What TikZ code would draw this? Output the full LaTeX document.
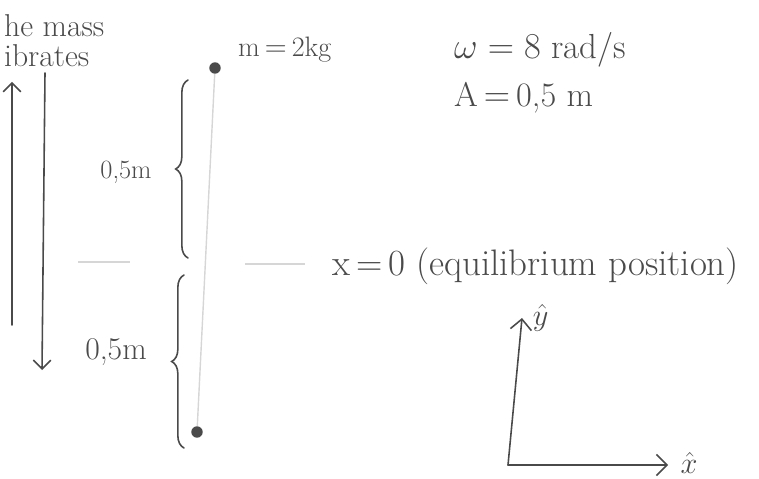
\documentclass[tikz,border=0pt]{standalone}
\usepackage{amsmath,amssymb}
\usepackage{tikz}
\usetikzlibrary{arrows.meta,positioning,decorations.pathreplacing,calc}
\definecolor{pencil}{HTML}{4A4A4A}
\definecolor{faint}{HTML}{D6D6D6}
\newcommand{\handsz}[1]{\fontsize{#1}{#1}\selectfont}

\begin{document}
\begin{tikzpicture}[x=0.02cm, y=-0.02cm,
    pen/.style={draw=pencil, line width=0.9pt, line cap=round},
    hand/.style={text=pencil, font=\Large, inner sep=1pt},
    mass/.style={circle, fill=pencil, minimum size=6.5pt, inner sep=0pt},
    bracepen/.style={pen, decorate, decoration={brace, amplitude=7pt}}]
    \useasboundingbox (0,0) rectangle (759,479);

    % Text top-left (cut by the border)
    \node[hand, font=\handsz{18pt}, anchor=west] (mass1) at (2,26) {he mass};
    \node[hand, font=\handsz{18pt}, anchor=west] (mass2) at (2,56) {ibrates};

    % Vibration arrows
    \coordinate (upS) at (12,325);
    \coordinate (upE) at (12,82);
    \coordinate (dnS) at (45,73);
    \coordinate (dnE) at (42,370);
    \draw[pen, -{Straight Barb[length=5pt]}] (upS) -- (upE);
    \draw[pen, -{Straight Barb[length=5pt]}] (dnS) -- (dnE);

    % Masses and the faint rod
    \node[mass] (top) at (215,68) {};
    \node[mass] (bot) at (197,432) {};
    \draw[faint, line width=0.8pt] (top) -- (bot);
    \node[hand, font=\handsz{16pt}, anchor=west] (mlabel) at (236,50) {m$\,=\,$2kg};

    % Equilibrium line (faint)
    \coordinate (eqA) at (78,262);
    \coordinate (eqB) at (130,262);
    \coordinate (eqC) at (245,264);
    \coordinate (eqD) at (305,264);
    \draw[faint, line width=0.8pt] (eqA) -- (eqB);
    \draw[faint, line width=0.8pt] (eqC) -- (eqD);

    % Braces
    \coordinate (brA) at (188,258);
    \coordinate (brB) at (188,80);
    \coordinate (brC) at (184,448);
    \coordinate (brD) at (184,275);
    \draw[bracepen] (brA) -- (brB);
    \draw[bracepen] (brC) -- (brD);
    \node[hand, font=\handsz{15pt}] (halfup) at (126,172) {0,5m};
    \node[hand, font=\handsz{18pt}] (halfdn) at (116,352) {0,5m};

    % Data
    \node[hand, font=\handsz{19.8pt}, anchor=west] (omega) at (452,50) {$\omega = 8$ rad/s};
    \node[hand, font=\handsz{19.5pt}, anchor=west] (ampl) at (452,98) {A$\,=\,$0,5 m};
    \node[hand, font=\handsz{21pt}, anchor=west] (eqtext) at (330,266) {x$\,=\,$0 (equilibrium position)};

    % Axes
    \coordinate (orig) at (508,465);
    \coordinate (yend) at (522,318);
    \coordinate (xend) at (668,465);
    \draw[pen, -{Straight Barb[length=6pt]}] (orig) -- (yend);
    \draw[pen, -{Straight Barb[length=6pt]}] (orig) -- (xend);
    \node[hand, font=\handsz{17pt}, right=5pt of yend] (ylab) {$\hat{y}$};
    \node[hand, font=\handsz{17pt}, right=6pt of xend, yshift=1pt] (xlab) {$\hat{x}$};

\end{tikzpicture}
\end{document}
